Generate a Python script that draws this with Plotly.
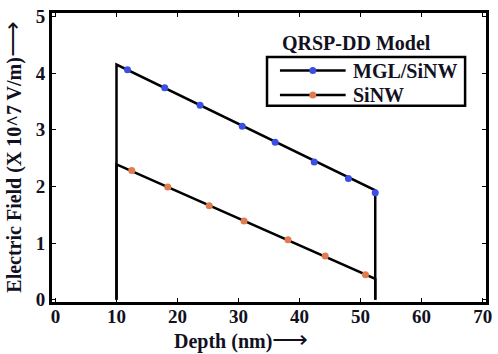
import plotly.graph_objects as go

# Data
mgl_line_x = [10, 10, 52.4, 52.4]
mgl_line_y = [0, 4.15, 1.93, 0]
mgl_pts_x = [11.8, 17.9, 23.7, 30.6, 36.0, 42.4, 48.0, 52.4]
mgl_pts_y = [4.06, 3.74, 3.43, 3.06, 2.78, 2.43, 2.14, 1.89]

sinw_line_x = [10, 10, 52.4, 52.4]
sinw_line_y = [0, 2.39, 0.37, 0]
sinw_pts_x = [12.5, 18.4, 25.2, 30.9, 38.1, 44.2, 50.8]
sinw_pts_y = [2.28, 1.99, 1.66, 1.39, 1.06, 0.77, 0.44]

x_ticks = [0, 10, 20, 30, 40, 50, 60, 70]
y_ticks = [0, 1, 2, 3, 4, 5]
series_names = ["MGL/SiNW", "SiNW"]
legend_title = "QRSP-DD Model"
x_title = "Depth (nm)"
y_title = "Electric Field (X 10^7 V/m)"

BLUE = "#3b4fe4"
ORANGE = "#e07c50"
TXT = "#111122"
FONT = "Liberation Serif"
ARROW = "<span style='font-size:25px'>⟶</span>"

fig = go.Figure()
fig.add_trace(go.Scatter(x=mgl_line_x, y=mgl_line_y, mode="lines",
                         line=dict(color="black", width=2.5), showlegend=False))
fig.add_trace(go.Scatter(x=sinw_line_x, y=sinw_line_y, mode="lines",
                         line=dict(color="black", width=2.5), showlegend=False))
fig.add_trace(go.Scatter(x=mgl_pts_x, y=mgl_pts_y, mode="markers",
                         marker=dict(color=BLUE, size=7), showlegend=False))
fig.add_trace(go.Scatter(x=sinw_pts_x, y=sinw_pts_y, mode="markers",
                         marker=dict(color=ORANGE, size=7), showlegend=False))

# manual legend (box below title, as in reference)
L, R, T, B = 52, 488, 6, 302
W, H = R - L, B - T
def px(x): return (x - L) / W
def py(y): return (B - y) / H

shapes = []
shapes.append(dict(type="rect", xref="paper", yref="paper",
                   x0=px(268), x1=px(467), y0=py(101), y1=py(51),
                   line=dict(color="black", width=2.5), fillcolor="white"))
annotations = []
for i, (name, col) in enumerate(zip(series_names, [BLUE, ORANGE])):
    yy = py(65 + i * 25)
    shapes.append(dict(type="line", xref="paper", yref="paper",
                       x0=px(281), x1=px(347), y0=yy, y1=yy,
                       line=dict(color="black", width=2.5)))
    shapes.append(dict(type="circle", xref="paper", yref="paper",
                       xsizemode="pixel", ysizemode="pixel",
                       xanchor=px(314), yanchor=yy,
                       x0=-3.5, x1=3.5, y0=-3.5, y1=3.5,
                       line=dict(width=0), fillcolor=col))
    annotations.append(dict(xref="paper", yref="paper", x=px(352), y=yy,
                            xanchor="left", yanchor="middle", showarrow=False,
                            text="<b>%s</b>" % name,
                            font=dict(family=FONT, size=20, color=TXT)))
annotations.append(dict(xref="paper", yref="paper", x=px(358), y=py(37),
                        xanchor="center", yanchor="middle", showarrow=False,
                        text="<b>%s</b>" % legend_title,
                        font=dict(family=FONT, size=20, color=TXT)))
# axis titles with arrows
annotations.append(dict(xref="paper", yref="paper", x=px(242), y=py(340),
                        xanchor="center", yanchor="middle", showarrow=False,
                        text="<b>%s</b>%s" % (x_title, ARROW),
                        font=dict(family=FONT, size=20, color=TXT)))
annotations.append(dict(xref="paper", yref="paper", x=px(12), y=py(153),
                        xanchor="center", yanchor="middle", showarrow=False,
                        textangle=-90,
                        text="<b>%s</b>%s" % (y_title, ARROW),
                        font=dict(family=FONT, size=20, color=TXT)))

axis_common = dict(showgrid=False, zeroline=False, showline=True, mirror="ticks",
                   linecolor="black", linewidth=3, ticks="inside", ticklen=4,
                   tickcolor="black", tickwidth=1,
                   tickfont=dict(family=FONT, size=19, color=TXT))

fig.update_layout(
    width=498, height=354,
    margin=dict(l=L, r=498 - R, t=T, b=354 - B),
    plot_bgcolor="white", paper_bgcolor="white",
    xaxis=dict(range=[-0.57, 70.55], tickvals=x_ticks, ticklabelstandoff=-5,
               ticktext=["<b>%d</b>" % v for v in x_ticks], **axis_common),
    yaxis=dict(range=[-0.04, 5.06], tickvals=y_ticks,
               ticktext=["<b>%d</b>" % v for v in y_ticks], **axis_common),
    shapes=shapes, annotations=annotations, showlegend=False,
)
fig.write_html("out.html", config={"displayModeBar": False},
               post_script="document.body.style.margin='0';document.body.style.overflow='hidden';")
